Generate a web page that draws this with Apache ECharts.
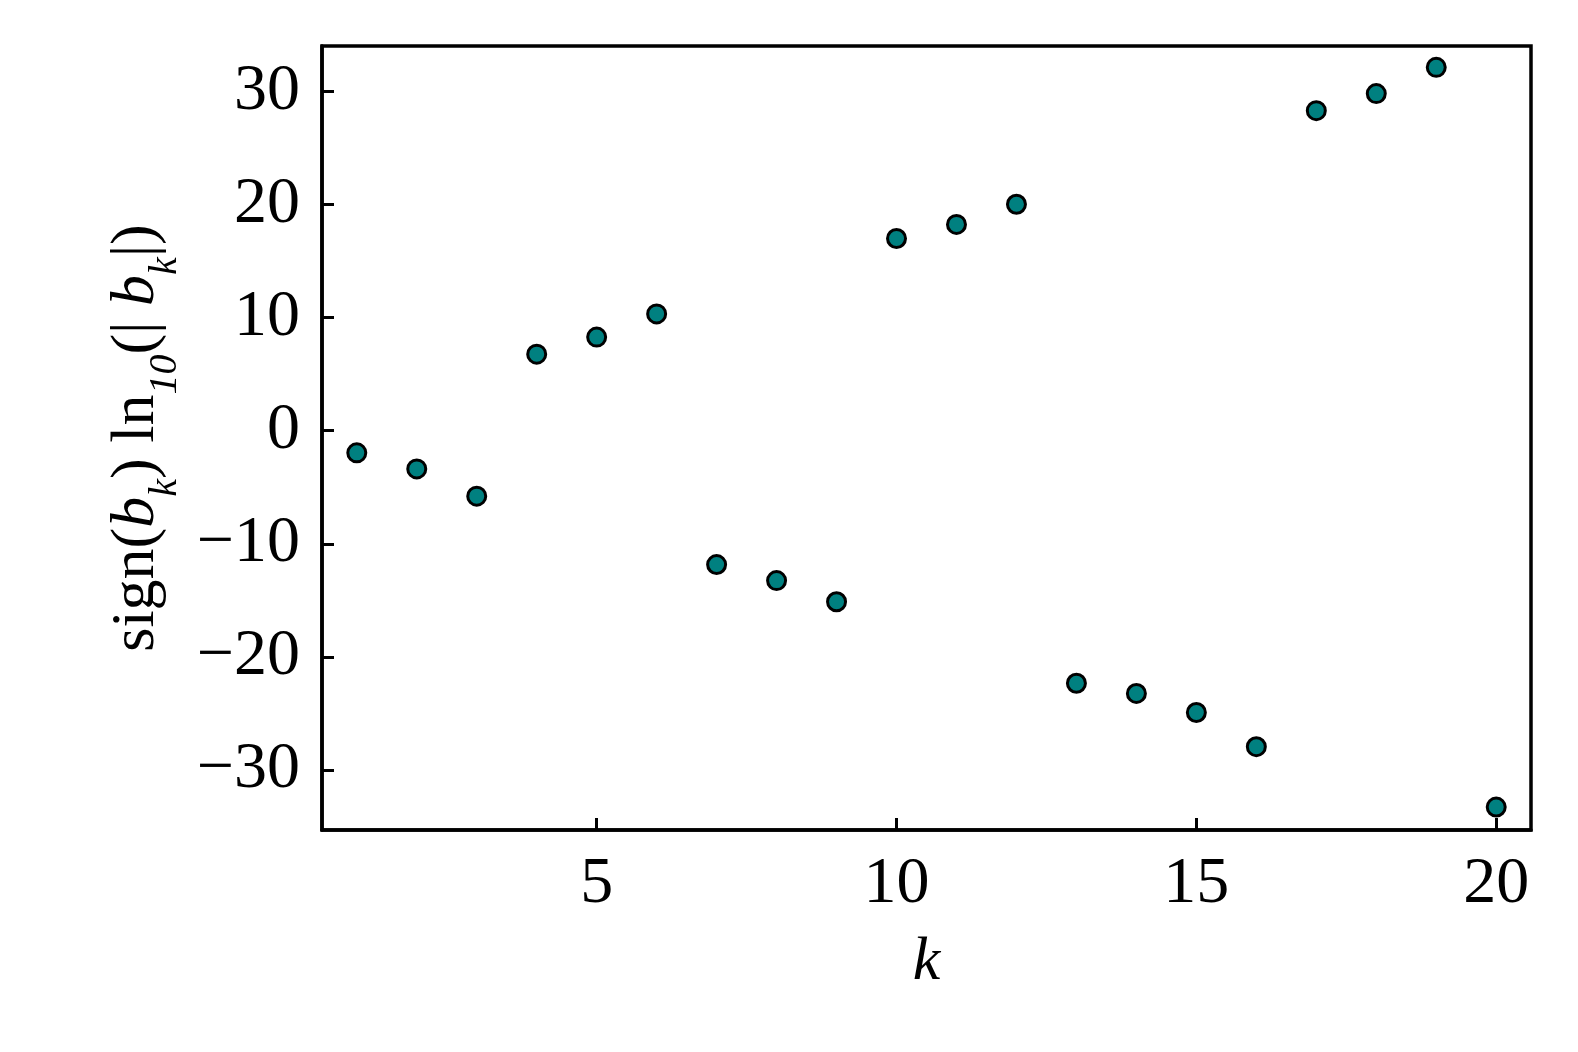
<!DOCTYPE html>
<html>
<head>
<meta charset="utf-8">
<script src="https://cdn.jsdelivr.net/npm/echarts@6/dist/echarts.min.js"></script>
<style>
  html, body { margin: 0; padding: 0; background: #fff; }
  #main { width: 1578px; height: 1052px; }
</style>
</head>
<body>
<div id="main"></div>
<script>
// k index and sign(b_k) ln10(|b_k|)
var kValues = [1, 2, 3, 4, 5, 6, 7, 8, 9, 10, 11, 12, 13, 14, 15, 16, 17, 18, 19, 20];
var signedLogB = [-1.96, -3.38, -5.79, 6.77, 8.28, 10.33, -11.84, -13.26, -15.13, 17.0,
    18.25, 20.03, -22.34, -23.24, -24.93, -27.95, 28.31, 29.82, 32.14, -33.29];
var xTicks = [5, 10, 15, 20];
var yTicks = [-30, -20, -10, 0, 10, 20, 30];

var points = [];
for (var i = 0; i < kValues.length; i++) {
    points.push([kValues[i], signedLogB[i]]);
}

var serif = '"Liberation Serif", "DejaVu Serif", serif';

function fmt(v) {
    return v < 0 ? '\u2212' + (-v) : String(v);
}

var chart = echarts.init(document.getElementById('main'));

var option = {
    backgroundColor: '#fff',
    animation: false,
    grid: {
        left: 322, right: 47, top: 46, bottom: 222,
        show: true, borderColor: '#000', borderWidth: 3.5,
        containLabel: false
    },
    xAxis: {
        type: 'value',
        min: 0.42, max: 20.58,
        name: 'k',
        nameLocation: 'middle',
        nameGap: 102,
        nameTextStyle: { fontFamily: serif, fontStyle: 'italic', fontSize: 62, color: '#000' },
        axisLine: { show: true, onZero: false, lineStyle: { color: '#000', width: 3.5 } },
        axisTick: { show: true, inside: true, length: 12, customValues: xTicks,
            lineStyle: { color: '#000', width: 3 } },
        axisLabel: { customValues: xTicks, margin: 22, fontFamily: serif, fontSize: 66,
            color: '#000', formatter: fmt },
        splitLine: { show: false }
    },
    yAxis: {
        type: 'value',
        min: -35.32, max: 34.03,
        name: '{n|sign(}{i|b}{s|k}{n|) ln}{s|10}{n|(| }{i|b}{s|k}{n||)}',
        nameLocation: 'middle',
        nameRotate: 90,
        nameGap: 142,
        nameTextStyle: {
            color: '#000',
            rich: {
                n: { fontFamily: serif, fontSize: 62, color: '#000', lineHeight: 80, verticalAlign: 'bottom' },
                i: { fontFamily: serif, fontStyle: 'italic', fontSize: 62, color: '#000', lineHeight: 80, verticalAlign: 'bottom' },
                s: { fontFamily: serif, fontStyle: 'italic', fontSize: 40, color: '#000', lineHeight: 80, verticalAlign: 'bottom', padding: [0, 0, -18, 0] }
            }
        },
        axisLine: { show: true, onZero: false, lineStyle: { color: '#000', width: 3.5 } },
        axisTick: { show: true, inside: true, length: 12, customValues: yTicks,
            lineStyle: { color: '#000', width: 3 } },
        axisLabel: { customValues: yTicks, margin: 22, fontFamily: serif, fontSize: 66,
            color: '#000', formatter: fmt },
        splitLine: { show: false }
    },
    series: [{
        type: 'scatter',
        data: points,
        symbol: 'circle',
        symbolSize: 18,
        itemStyle: { color: '#008080', borderColor: '#000', borderWidth: 3, opacity: 1 }
    }]
};

chart.setOption(option);
</script>
</body>
</html>
